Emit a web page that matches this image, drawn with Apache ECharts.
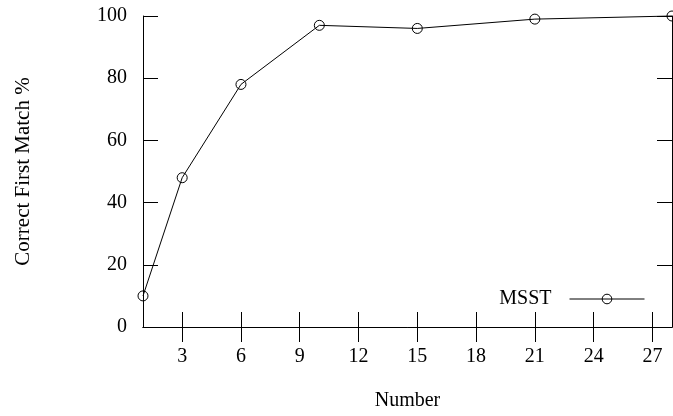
<!DOCTYPE html>
<html>
<head>
<meta charset="utf-8">
<script src="https://cdn.jsdelivr.net/npm/echarts@6/dist/echarts.min.js"></script>
<style>
  html, body { margin: 0; padding: 0; background: #fff; }
  #chart { width: 673px; height: 416px; }
</style>
</head>
<body>
<div id="chart"></div>
<script>
// Matching accuracy against the number of candidates
const numbers = [1, 3, 6, 10, 15, 21, 28];
const msst = [10, 48, 78, 97, 96, 99, 100];
const xTicks = [3, 6, 9, 12, 15, 18, 21, 24, 27];
const yTicks = [0, 20, 40, 60, 80, 100];

const FONT = '"Liberation Serif", "DejaVu Serif", serif';
const chart = echarts.init(document.getElementById('chart'), null, { renderer: 'canvas' });

const tickStyle = { lineStyle: { color: '#000', width: 1 } };

chart.setOption({
  animation: false,
  backgroundColor: '#fff',
  textStyle: { fontFamily: FONT, color: '#000' },
  grid: { left: 143, right: 1, top: 16, bottom: 86, containLabel: false },
  legend: {
    data: ['MSST'],
    right: 23,
    bottom: 102,
    align: 'right',
    itemWidth: 75,
    itemHeight: 12,
    itemGap: 0,
    lineStyle: { color: '#000', width: 1 },
    itemStyle: { color: 'rgba(0,0,0,0)', borderColor: '#000', borderWidth: 1 },
    textStyle: { fontFamily: FONT, fontSize: 20, color: '#000', padding: [0, 13, 0, 0] }
  },
  xAxis: [
    {
      type: 'value', min: 1, max: 28, position: 'bottom',
      name: 'Number', nameLocation: 'middle', nameGap: 64,
      nameTextStyle: { fontFamily: FONT, fontSize: 20, color: '#000' },
      axisLine: { lineStyle: { color: '#000', width: 1 } },
      axisTick: { inside: true, length: 15, customValues: xTicks, ...tickStyle },
      axisLabel: { customValues: xTicks, fontFamily: FONT, fontSize: 20, color: '#000', margin: 20 },
      splitLine: { show: false }
    },
    {
      type: 'value', min: 1, max: 28, position: 'top',
      axisLine: { lineStyle: { color: '#000', width: 1 } },
      axisTick: { inside: true, length: 15, customValues: xTicks, ...tickStyle },
      axisLabel: { show: false },
      splitLine: { show: false }
    }
  ],
  yAxis: [
    {
      type: 'value', min: 0, max: 100, interval: 20, position: 'left',
      name: 'Correct First Match %', nameLocation: 'middle', nameGap: 109, nameRotate: 90,
      nameTextStyle: { fontFamily: FONT, fontSize: 21, color: '#000' },
      axisLine: { show: true, lineStyle: { color: '#000', width: 1 } },
      axisTick: { show: true, inside: true, length: 15, ...tickStyle },
      axisLabel: { fontFamily: FONT, fontSize: 20, color: '#000', margin: 16 },
      splitLine: { show: false }
    },
    {
      type: 'value', min: 0, max: 100, interval: 20, position: 'right',
      axisLine: { show: true, lineStyle: { color: '#000', width: 1 } },
      axisTick: { show: true, inside: true, length: 15, ...tickStyle },
      axisLabel: { show: false },
      splitLine: { show: false }
    }
  ],
  series: [
    {
      name: 'MSST',
      type: 'line',
      data: numbers.map((n, i) => [n, msst[i]]),
      symbol: 'circle',
      symbolSize: 10,
      clip: false,
      lineStyle: { color: '#000', width: 1 },
      itemStyle: { color: 'rgba(0,0,0,0)', borderColor: '#000', borderWidth: 1 }
    }
  ]
});
</script>
</body>
</html>
